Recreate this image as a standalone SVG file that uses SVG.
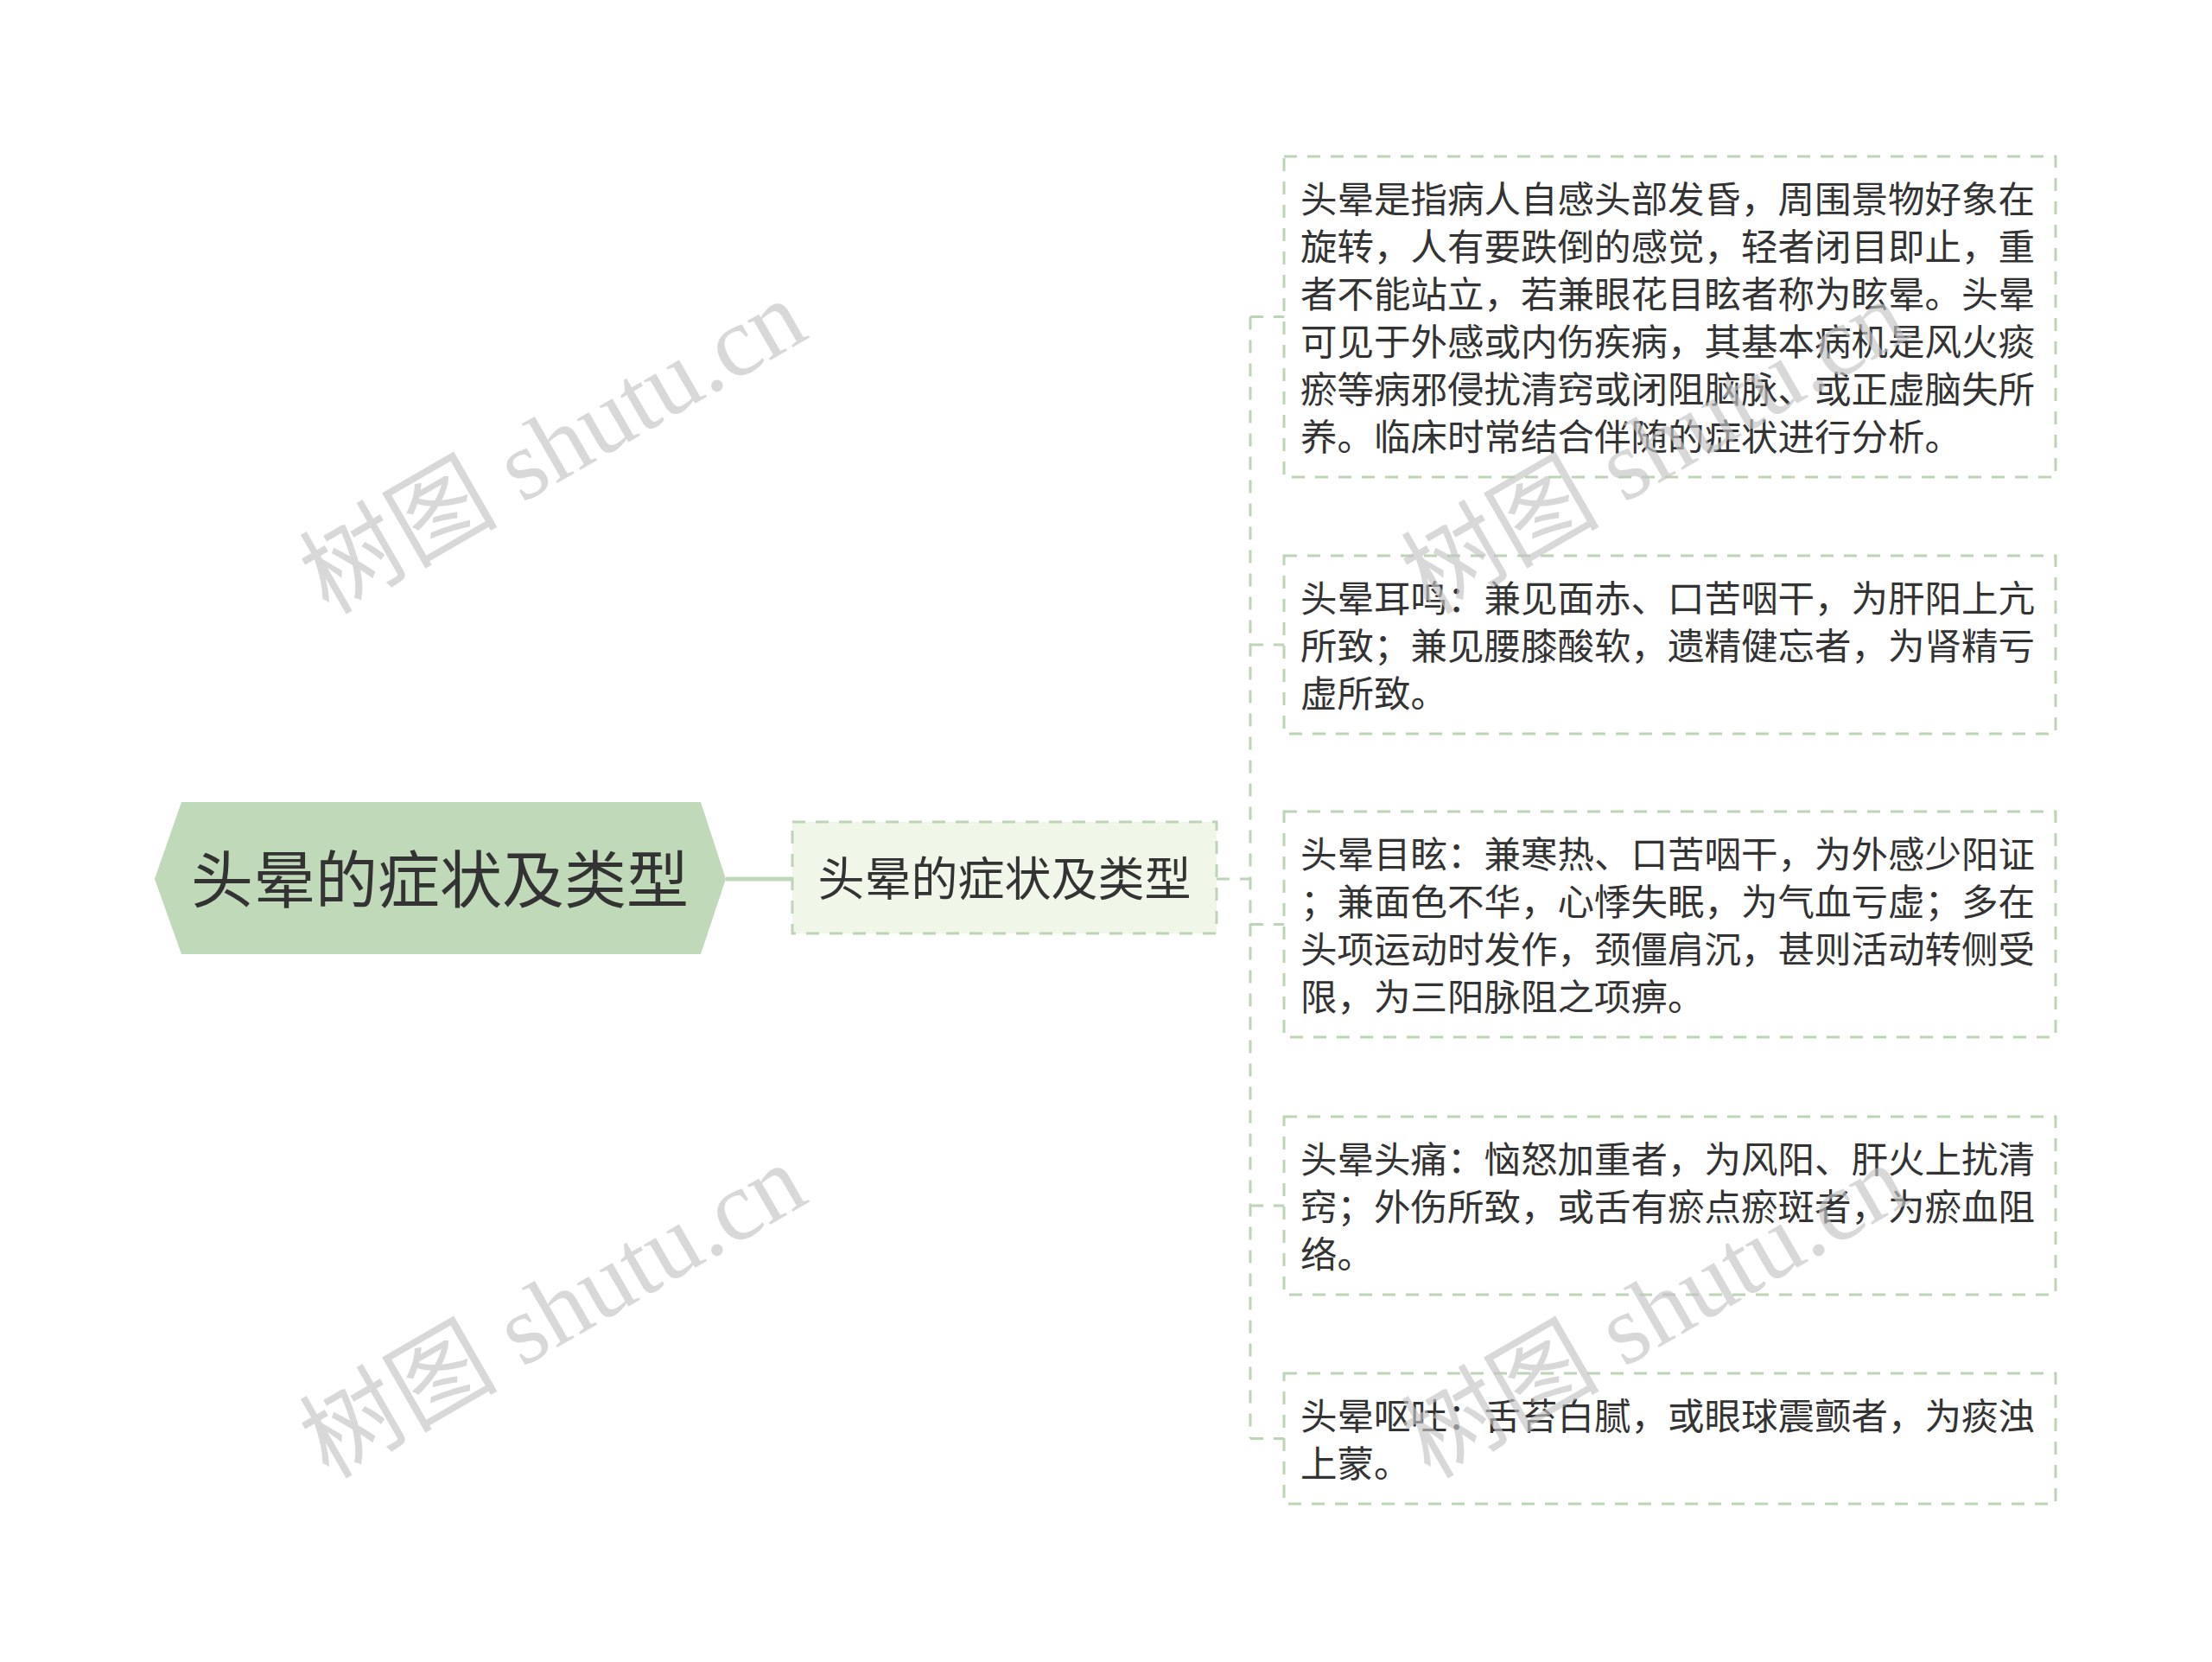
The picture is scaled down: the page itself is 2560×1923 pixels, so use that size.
<svg xmlns="http://www.w3.org/2000/svg" width="2560" height="1923" viewBox="0 0 2560 1923">
<style>
.bg{fill:#ffffff}
.dash{fill:none;stroke:#bcd6b5;stroke-width:3;stroke-dasharray:15 12}
.leaf{fill:#ffffff;stroke:#bcd6b5;stroke-width:3;stroke-dasharray:15 12}
.sub{fill:#f0f7e9;stroke:#bcd6b5;stroke-width:3;stroke-dasharray:15 12}
.t{font-family:"Noto Sans CJK SC","Noto Sans",sans-serif;fill:#333333}
.lt{font-size:42.5px}
.wm{font-family:"Liberation Serif","Noto Sans CJK SC",serif;font-size:115px;fill:#c4c4c4;opacity:0.65}
</style>
<rect class="bg" x="0" y="0" width="2560" height="1923"/>
<g id="connectors">
<line x1="840" y1="1017" x2="917" y2="1017" stroke="#bfd9b9" stroke-width="5"/>
<path class="dash" d="M1408 1017 H1447"/>
<path class="dash" d="M1447 366.5 V1664.5"/>
<path class="dash" d="M1447 366.5 H1486"/>
<path class="dash" d="M1447 746 H1486"/>
<path class="dash" d="M1447 1069.5 H1486"/>
<path class="dash" d="M1447 1395 H1486"/>
<path class="dash" d="M1447 1664.5 H1486"/>
</g>
<g id="root">
<polygon points="179,1017 210,928 811,928 840,1017 811,1104 210,1104" fill="#bfd9b9"/>
<text class="t" x="509" y="1044" font-size="72" text-anchor="middle">头晕的症状及类型</text>
</g>
<g id="sub">
<rect class="sub" x="917" y="951" width="491" height="129"/>
<text class="t" x="1162.5" y="1037" font-size="54" text-anchor="middle">头晕的症状及类型</text>
</g>
<g id="leaf1">
<rect class="leaf" x="1486" y="181" width="893" height="371"/>
<text class="t lt">
<tspan x="1505" y="246">头晕是指病人自感头部发昏，周围景物好象在</tspan>
<tspan x="1505" y="301">旋转，人有要跌倒的感觉，轻者闭目即止，重</tspan>
<tspan x="1505" y="356">者不能站立，若兼眼花目眩者称为眩晕。头晕</tspan>
<tspan x="1505" y="411">可见于外感或内伤疾病，其基本病机是风火痰</tspan>
<tspan x="1505" y="466">瘀等病邪侵扰清窍或闭阻脑脉、或正虚脑失所</tspan>
<tspan x="1505" y="521">养。临床时常结合伴随的症状进行分析。</tspan>
</text>
</g>
<g id="leaf2">
<rect class="leaf" x="1486" y="643" width="893" height="206"/>
<text class="t lt">
<tspan x="1505" y="708">头晕耳鸣：兼见面赤、口苦咽干，为肝阳上亢</tspan>
<tspan x="1505" y="763">所致；兼见腰膝酸软，遗精健忘者，为肾精亏</tspan>
<tspan x="1505" y="818">虚所致。</tspan>
</text>
</g>
<g id="leaf3">
<rect class="leaf" x="1486" y="939" width="893" height="261"/>
<text class="t lt">
<tspan x="1505" y="1004">头晕目眩：兼寒热、口苦咽干，为外感少阳证</tspan>
<tspan x="1505" y="1059">；兼面色不华，心悸失眠，为气血亏虚；多在</tspan>
<tspan x="1505" y="1114">头项运动时发作，颈僵肩沉，甚则活动转侧受</tspan>
<tspan x="1505" y="1169">限，为三阳脉阻之项痹。</tspan>
</text>
</g>
<g id="leaf4">
<rect class="leaf" x="1486" y="1292" width="893" height="206"/>
<text class="t lt">
<tspan x="1505" y="1357">头晕头痛：恼怒加重者，为风阳、肝火上扰清</tspan>
<tspan x="1505" y="1412">窍；外伤所致，或舌有瘀点瘀斑者，为瘀血阻</tspan>
<tspan x="1505" y="1467">络。</tspan>
</text>
</g>
<g id="leaf5">
<rect class="leaf" x="1486" y="1589" width="893" height="151"/>
<text class="t lt">
<tspan x="1505" y="1654">头晕呕吐：舌苔白腻，或眼球震颤者，为痰浊</tspan>
<tspan x="1505" y="1709">上蒙。</tspan>
</text>
</g>
<g id="watermarks">
<text class="wm" transform="translate(380,712) rotate(-30)">树图 shutu.cn</text>
<text class="wm" transform="translate(380,1712) rotate(-30)">树图 shutu.cn</text>
<text class="wm" transform="translate(1655,712) rotate(-30)">树图 shutu.cn</text>
<text class="wm" transform="translate(1655,1712) rotate(-30)">树图 shutu.cn</text>
</g>
</svg>
